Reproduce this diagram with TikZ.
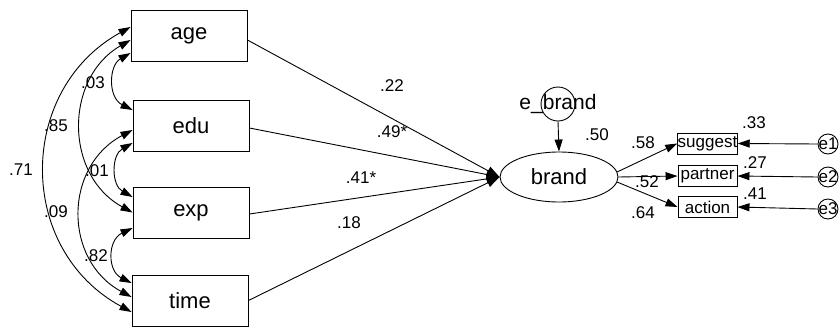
\documentclass[tikz,border=0pt]{standalone}
\usepackage{fontspec}
\setmainfont{Liberation Sans}
\usetikzlibrary{arrows.meta,shapes.geometric}
\begin{document}
\begin{tikzpicture}[x=1pt,y=-1pt,
  obs/.style={draw, line width=0.9pt, rectangle, minimum width=116pt, minimum height=51pt, inner sep=0pt, font=\fontsize{22}{24}\selectfont},
  ind/.style={draw, line width=0.9pt, rectangle, minimum width=59pt, minimum height=21pt, inner sep=0pt, font=\fontsize{17}{18}\selectfont},
  err/.style={draw, circle, line width=0.9pt, minimum size=20pt, inner sep=0pt},
  lbl/.style={font=\fontsize{17}{18}\selectfont, inner sep=0pt},
  conn/.style={line width=0.9pt, -{Triangle[length=12pt,width=8pt]}},
  conn2/.style={line width=0.9pt, -{Triangle[length=13pt,width=9pt]}},
  cov/.style={line width=0.9pt, {Triangle[length=12pt,width=8pt]}-{Triangle[length=12pt,width=8pt]}},
]
\useasboundingbox (0,0) rectangle (840,327);

% observed exogenous variables
\node[obs] (age)  at (189,35.5)  {age};
\node[obs] (edu)  at (191,126)   {edu};
\node[obs] (exp)  at (191,212.5) {exp};
\node[obs] (time) at (190,300.5) {time};

% latent
\node[draw, ellipse, line width=0.9pt, minimum width=118pt, minimum height=50pt, inner sep=0pt,
      font=\fontsize{22}{24}\selectfont] (brand) at (559,177) {brand};
\node[err, minimum size=34pt,
      label={[font=\fontsize{21}{24}\selectfont, inner sep=0pt]center:e\_brand}] (ebrand) at (558,104) {};

% indicators
\node[ind] (suggest) at (707.5,143.5) {suggest};
\node[ind] (partner) at (707.5,176)   {partner};
\node[ind] (action)  at (707.5,207)   {action};

\node[err, label={[lbl]center:e1}] (e1) at (828,144) {};
\node[err, label={[lbl]center:e2}] (e2) at (828,177) {};
\node[err, label={[lbl]center:e3}] (e3) at (828,209) {};

% regression paths
\draw[conn2] ([yshift=-4.5pt]age.east) -- (brand.west);
\draw[conn2] ([yshift=-2pt]edu.east) -- (brand.west);
\draw[conn2] ([yshift=-1.5pt]exp.east) -- (brand.west);
\draw[conn2] (time.east) -- (brand.west);
\draw[conn] (ebrand.south) -- (brand.north);
\draw[conn] (brand.5) -- (suggest.west);
\draw[conn] (brand.east) -- (partner.west);
\draw[conn] (brand.-5) -- (action.west);
\draw[conn] (e1.west) -- (suggest.east);
\draw[conn] (e2.west) -- (partner.east);
\draw[conn] (e3.west) -- (action.east);

% covariances
\draw[cov] ([yshift=-17.5pt]age.west) .. controls +(-21.8,12.5) and +(-24.8,-12.5) .. ([yshift=16pt]edu.west);
\draw[cov] ([yshift=-17pt]edu.west) .. controls +(-21.3,12) and +(-21.3,-12) .. ([yshift=15.5pt]exp.west);
\draw[cov] ([yshift=-15.5pt]exp.west) .. controls +(-25.2,12.1) and +(-24.2,-12.1) .. ([yshift=17.5pt]time.west);
\draw[cov] ([yshift=-4.5pt]age.west) .. controls +(-65.8,37.8) and +(-68.8,-37.8) .. (exp.west);
\draw[cov] ([yshift=-4pt]edu.west) .. controls +(-69.2,36.7) and +(-68.2,-36.7) .. ([yshift=3.5pt]time.west);
\draw[cov] ([yshift=8.5pt]age.west) .. controls +(-113.7,62.7) and +(-115.7,-62.7) .. ([yshift=-11.5pt]time.west);

% labels
\node[lbl] (l03) at (93,83)  {.03};
\node[lbl] (l85) at (56,126) {.85};
\node[lbl] (l71) at (21,170) {.71};
\node[lbl] (l01) at (97,171) {.01};
\node[lbl] (l09) at (56,212) {.09};
\node[lbl] (l82) at (96,256) {.82};

\node[lbl] (l22) at (392,86)  {.22};
\node[lbl] (l49) at (392,132) {.49*};
\node[lbl] (l41s) at (361,178) {.41*};
\node[lbl] (l18) at (349,223) {.18};

\node[lbl] (l50) at (597,135) {.50};
\node[lbl] (l58) at (643,143) {.58};
\node[lbl] (l52) at (647,182) {.52};
\node[lbl] (l64) at (643,213) {.64};
\node[lbl] (l33) at (754,123) {.33};
\node[lbl] (l27) at (755,163) {.27};
\node[lbl] (l41) at (755,194) {.41};
\end{tikzpicture}
\end{document}
